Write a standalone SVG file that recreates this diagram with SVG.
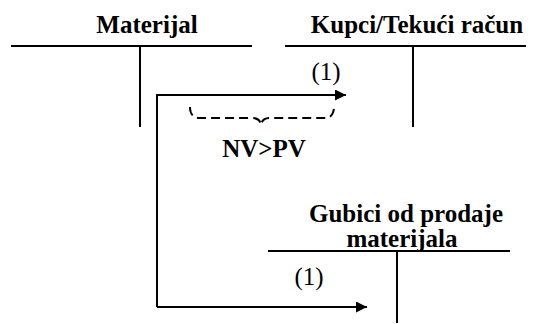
<svg xmlns="http://www.w3.org/2000/svg" width="538" height="324" viewBox="0 0 538 324">
<style>
.ln{stroke:#000;stroke-width:2;fill:none}
.t{font-family:'Liberation Serif','DejaVu Serif',serif;font-size:25px;fill:#000}
.b{font-weight:bold}
</style>
<defs>
<marker id="ah" viewBox="0 0 10 10" refX="10" refY="5" markerWidth="8" markerHeight="5.5" markerUnits="strokeWidth" orient="auto"><path d="M0,0L10,5L0,10z" fill="#000"/></marker>
</defs>
<rect width="538" height="324" fill="#fff"/>
<g id="materijal">
<text class="t b" x="147" y="33" text-anchor="middle">Materijal</text>
<path class="ln" d="M11,46H252M140,46V127"/>
</g>
<g id="kupci">
<text class="t b" x="417" y="33" text-anchor="middle">Kupci/Tekući račun</text>
<path class="ln" d="M285,46H526M413,46V127"/>
</g>
<g id="gubici">
<text class="t b" x="406" y="222" text-anchor="middle">Gubici od prodaje</text>
<text class="t b" x="402" y="247" text-anchor="middle">materijala</text>
<path class="ln" d="M268,251H510M397,251V323"/>
</g>
<g id="connectors">
<path class="ln" d="M157,307V95H346" marker-end="url(#ah)"/>
<path class="ln" d="M157,307H367" marker-end="url(#ah)"/>
<text class="t" x="326" y="80" text-anchor="middle">(1)</text>
<text class="t" x="309" y="285" text-anchor="middle">(1)</text>
<path class="ln" stroke-dasharray="9,5" d="M190,107Q190,118 200,118H252Q260,118 261,125Q262,118 270,118H325Q333,118 334,108"/>
<text class="t b" x="264" y="157" text-anchor="middle">NV&gt;PV</text>
</g>
</svg>
